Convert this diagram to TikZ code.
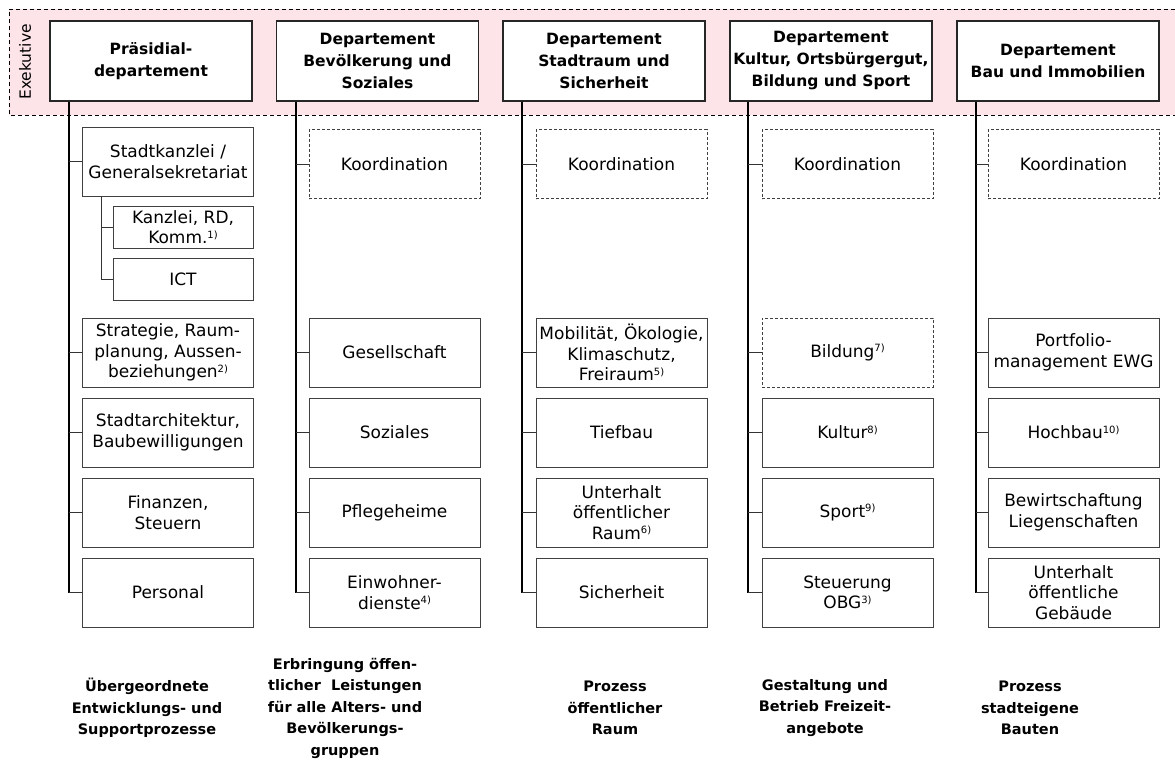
\documentclass[tikz,border=0pt]{standalone}
\usepackage{fontspec}
\setmainfont{DejaVu Sans}
\usetikzlibrary{calc}
\definecolor{exekpink}{RGB}{253,228,232}
\newcommand{\fnote}[1]{\raisebox{0.6ex}{\fontsize{10}{10}\selectfont #1}}
\tikzset{
	dept/.style={draw=black!85, line width=1.1pt, fill=white, minimum width=202pt, minimum height=80pt, align=center, inner sep=1pt, font=\bfseries\fontsize{15.5}{22}\selectfont},
	unit/.style={draw=black!75, line width=0.9pt, fill=white, minimum width=171pt, minimum height=69pt, align=center, inner sep=1pt, font=\fontsize{17}{20.5}\selectfont},
	subunit/.style={unit, minimum width=140pt, minimum height=42pt},
	coordbox/.style={unit, dash pattern=on 3pt off 2pt},
	trunk/.style={line width=2pt},
	conn/.style={draw=black!80, line width=0.8pt},
	process/.style={align=center, font=\bfseries\fontsize{14.5}{21.5}\selectfont}
}
\begin{document}
\begin{tikzpicture}[x=1pt, y=-1pt]
	\useasboundingbox (0,0) rectangle (1175,761);
	\fill[exekpink] (9,9) rectangle (1175,115);
	\draw[line width=0.7pt, dash pattern=on 4pt off 3pt] (1175,9) -- (9,9) -- (9,115) -- (1175,115);
	\node[rotate=90, font=\fontsize{15.5}{16}\selectfont] (exek) at (25,62) {Exekutive};

	\node[dept] (praes) at (151,61) {Präsidial-\\departement};
	\node[dept] (bevoe) at (377.5,61) {Departement\\Bevölkerung und\\Soziales};
	\node[dept] (stadtr) at (604,61) {Departement\\Stadtraum und\\Sicherheit};
	\node[dept] (kultur) at (831,61) {Departement\\Kultur, Ortsbürgergut,\\Bildung und Sport};
	\node[dept] (bau) at (1058,61) {Departement\\Bau und Immobilien};

	\coordinate (t1) at ($(praes.south west)+(20,0)$);
	\coordinate (t2) at ($(bevoe.south west)+(20,0)$);
	\coordinate (t3) at ($(stadtr.south west)+(20,0)$);
	\coordinate (t4) at ($(kultur.south west)+(19,0)$);
	\coordinate (t5) at ($(bau.south west)+(20,0)$);

	\node[unit] (kanzl) at (168,161.5) {Stadtkanzlei /\\Generalsekretariat};
	\node[subunit] (komm) at (183,227) {Kanzlei, RD,\\Komm.\fnote{1)}};
	\node[subunit] (ict) at (183,279) {ICT};
	\node[unit] (strat) at (168,352.5) {Strategie, Raum-\\planung, Aussen-\\beziehungen\fnote{2)}};
	\node[unit] (archi) at (168,432.5) {Stadtarchitektur,\\Baubewilligungen};
	\node[unit] (finanz) at (168,512.5) {Finanzen,\\Steuern};
	\node[unit] (perso) at (168,592.5) {Personal};
	\coordinate (t1a) at ($(kanzl.south west)+(19,0)$);
	\draw[conn] (t1a) |- (ict.west);
	\draw[conn] (komm.west) -- (komm.west -| t1a);
	\draw[trunk] (t1) -- (t1 |- perso.west);
	\foreach \n in {kanzl,strat,archi,finanz,perso}
		\draw[conn] (\n.west) -- (\n.west -| t1);

	\node[coordbox] (koord2) at (394.5,164) {Koordination};
	\node[unit] (gesell) at (394.5,352.5) {Gesellschaft};
	\node[unit] (sozial) at (394.5,432.5) {Soziales};
	\node[unit] (pflege) at (394.5,512.5) {Pflegeheime};
	\node[unit] (einw) at (394.5,592.5) {Einwohner-\\dienste\fnote{4)}};
	\draw[trunk] (t2) -- (t2 |- einw.west);
	\foreach \n in {koord2,gesell,sozial,pflege,einw}
		\draw[conn] (\n.west) -- (\n.west -| t2);

	\node[coordbox] (koord3) at (621.5,164) {Koordination};
	\node[unit] (mobil) at (621.5,352.5) {Mobilität, Ökologie,\\Klimaschutz,\\Freiraum\fnote{5)}};
	\node[unit] (tiefb) at (621.5,432.5) {Tiefbau};
	\node[unit] (unterh) at (621.5,512.5) {Unterhalt\\öffentlicher\\Raum\fnote{6)}};
	\node[unit] (sicher) at (621.5,592.5) {Sicherheit};
	\draw[trunk] (t3) -- (t3 |- sicher.west);
	\foreach \n in {koord3,mobil,tiefb,unterh,sicher}
		\draw[conn] (\n.west) -- (\n.west -| t3);

	\node[coordbox] (koord4) at (847.5,164) {Koordination};
	\node[coordbox] (bild) at (847.5,352.5) {Bildung\fnote{7)}};
	\node[unit] (kult) at (847.5,432.5) {Kultur\fnote{8)}};
	\node[unit] (sport) at (847.5,512.5) {Sport\fnote{9)}};
	\node[unit] (obg) at (847.5,592.5) {Steuerung\\OBG\fnote{3)}};
	\draw[trunk] (t4) -- (t4 |- obg.west);
	\foreach \n in {koord4,bild,kult,sport,obg}
		\draw[conn] (\n.west) -- (\n.west -| t4);

	\node[coordbox] (koord5) at (1073.5,164) {Koordination};
	\node[unit] (portf) at (1073.5,352.5) {Portfolio-\\management EWG};
	\node[unit] (hochb) at (1073.5,432.5) {Hochbau\fnote{10)}};
	\node[unit] (bewirt) at (1073.5,512.5) {Bewirtschaftung\\Liegenschaften};
	\node[unit] (gebaeude) at (1073.5,592.5) {Unterhalt\\öffentliche\\Gebäude};
	\draw[trunk] (t5) -- (t5 |- gebaeude.west);
	\foreach \n in {koord5,portf,hochb,bewirt,gebaeude}
		\draw[conn] (\n.west) -- (\n.west -| t5);

	\node[process] (proc1) at (147,708) {Übergeordnete\\Entwicklungs- und\\Supportprozesse};
	\node[process] (proc2) at (345,708) {Erbringung öffen-\\tlicher~~Leistungen\\für alle Alters- und\\Bevölkerungs-\\gruppen};
	\node[process] (proc3) at (615,708) {Prozess\\öffentlicher\\Raum};
	\node[process] (proc4) at (825,708) {Gestaltung und\\Betrieb Freizeit-\\angebote};
	\node[process] (proc5) at (1030,708) {Prozess\\stadteigene\\Bauten};
\end{tikzpicture}
\end{document}
